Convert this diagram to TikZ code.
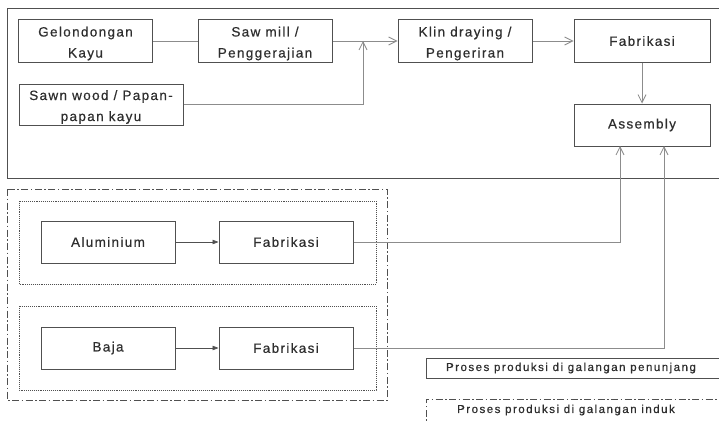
\documentclass[tikz,border=0pt]{standalone}
\usepackage{fontspec}
\setmainfont{Liberation Sans}[LetterSpace=10,FakeBold=0.5]
\usetikzlibrary{arrows.meta,calc}

\definecolor{boxline}{HTML}{505050}
\definecolor{wireline}{HTML}{8C8C8C}
\definecolor{ink}{HTML}{2E2E2E}

\tikzset{
  x=1pt, y=-1pt,
  proc/.style={draw=boxline, line width=1pt, text=ink, font=\fontsize{13.5}{21}\selectfont,
               align=center, minimum width=134pt, minimum height=42pt, inner sep=0pt},
  twoline/.style={text height=33pt, text depth=0pt},
  wire/.style={draw=wireline, line width=0.8pt},
  openarrow/.style={wire, -{Straight Barb[length=8pt,width=8pt,line width=0.8pt]}},
  solidarrow/.style={draw=boxline, line width=0.6pt, -{Triangle[length=6pt,width=4.5pt]}},
  group/.style={draw=boxline, line width=0.9pt, densely dotted},
  dashdot/.style={draw=boxline, line width=0.9pt, dash pattern=on 7pt off 2.5pt on 1.5pt off 2.5pt},
  frame/.style={draw=boxline, line width=1pt},
  legend/.style={text=ink, font=\fontsize{11.5}{13}\selectfont\addfontfeatures{LetterSpace=13}}
}

\begin{document}
\begin{tikzpicture}
\useasboundingbox (0,0) rectangle (719,420);
\fill[white] (0,0) rectangle (719,420);

% wood process area
\draw[frame] (7,9) rectangle (740,178);

\node[proc, twoline] (glk) at (85.5,41) {Gelondongan\\Kayu};
\node[proc, twoline] (saw) at (265,41) {Saw mill /\\Penggerajian};
\node[proc, twoline, minimum width=164pt, minimum height=41pt] (swd) at (101,104.5) {Sawn wood / Papan-\\papan kayu};
\node[proc, twoline] (kln) at (465,41) {Klin draying /\\Pengeriran};
\node[proc, minimum width=136pt] (fbw) at (642,41) {Fabrikasi};
\node[proc, minimum width=136pt] (asm) at (642,125) {Assembly};

\coordinate (join) at (363,41);
\coordinate (inAl) at (620,146);
\coordinate (inBj) at (664,146);

\draw[wire] (glk) -- (saw);
\draw[openarrow] (saw) -- (kln);
\draw[openarrow] (swd.east) -| (join);
\draw[openarrow] (kln) -- (fbw);
\draw[openarrow] (fbw) -- (asm);

% metal process area
\draw[dashdot] (7,189) rectangle (387,400);
\draw[group] (19,201) rectangle (376,284);
\draw[group] (19,306) rectangle (376,390);

\node[proc] (alu) at (108,242) {Aluminium};
\node[proc] (fal) at (286,242) {Fabrikasi};
\node[proc] (bja) at (108,348) {Baja};
\node[proc] (fbj) at (286,348) {Fabrikasi};

\draw[solidarrow] (alu) -- (fal);
\draw[solidarrow] (bja) -- (fbj);

\draw[openarrow] (fal.east) -| (inAl);
\draw[openarrow] (fbj.east) -| (inBj);

% legend
\draw[frame] (426,358) rectangle (740,378);
\node[legend] (lg1) at (571,368) {Proses produksi di galangan penunjang};
\draw[dashdot] (426,430) -- (426,399) -- (740,399);
\node[legend] (lg2) at (566,410) {Proses produksi di galangan induk};
\end{tikzpicture}
\end{document}
